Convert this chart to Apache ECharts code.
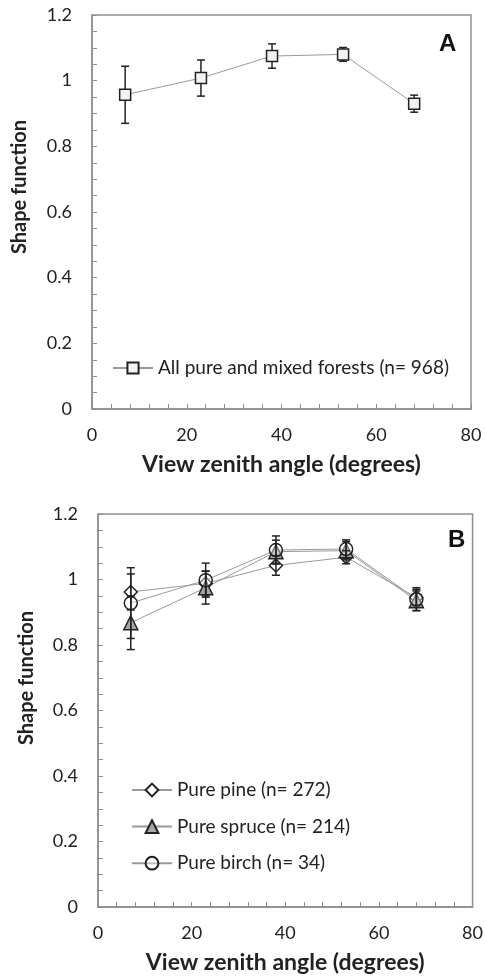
<!DOCTYPE html>
<html>
<head>
<meta charset="utf-8">
<script src="https://cdn.jsdelivr.net/npm/echarts@6/dist/echarts.min.js"></script>
<style>
  html, body { margin: 0; padding: 0; background: #fff; }
  #chart { width: 486px; height: 979px; }
</style>
</head>
<body>
<div id="chart"></div>
<script>
// view zenith angles (degrees)
const angles = [7, 23, 38, 53, 68]

// panel A: all pure and mixed forests
const allMean = [0.957, 1.008, 1.075, 1.08, 0.93]
const allErr = [0.087, 0.055, 0.037, 0.021, 0.026]

// panel B: pure stands
const pineMean = [0.962, 0.988, 1.043, 1.068, 0.945]
const pineErr = [0.055, 0.038, 0.03, 0.02, 0.025]
const spruceMean = [0.868, 0.975, 1.085, 1.088, 0.935]
const spruceErr = [0.082, 0.05, 0.035, 0.028, 0.03]
const birchMean = [0.928, 0.998, 1.09, 1.093, 0.94]
const birchErr = [0.108, 0.052, 0.043, 0.028, 0.035]

const xTicks = [0, 20, 40, 60, 80]
const yTicks = [0, 0.2, 0.4, 0.6, 0.8, 1, 1.2]

const FONT = 'Lato'
const AXIS_COLOR = '#8f8f8f'
const TEXT_COLOR = '#222'

const chart = echarts.init(document.getElementById('chart'))

const makeX = (idx) => ({
  type: 'value',
  gridIndex: idx,
  min: xTicks[0],
  max: xTicks[xTicks.length - 1],
  interval: xTicks[1] - xTicks[0],
  name: 'View zenith angle (degrees)',
  nameLocation: 'middle',
  nameGap: 44,
  nameTextStyle: { fontFamily: FONT, fontWeight: 'bold', fontSize: 23, color: TEXT_COLOR },
  axisLine: { lineStyle: { color: AXIS_COLOR, width: 1.5 } },
  axisTick: { inside: true, length: 5, lineStyle: { color: AXIS_COLOR } },
  minorTick: { show: true, splitNumber: 5, length: 5, lineStyle: { color: AXIS_COLOR } },
  axisLabel: { margin: 17, fontFamily: FONT, fontSize: 18, color: TEXT_COLOR },
  splitLine: { show: false }
})

const makeY = (idx) => ({
  type: 'value',
  gridIndex: idx,
  min: yTicks[0],
  max: yTicks[yTicks.length - 1],
  interval: 0.2,
  axisLine: { show: true, lineStyle: { color: AXIS_COLOR, width: 1.5 } },
  axisTick: { show: true, inside: true, length: 5, lineStyle: { color: AXIS_COLOR } },
  minorTick: { show: true, splitNumber: 4, length: 5, lineStyle: { color: AXIS_COLOR } },
  axisLabel: { margin: 20, fontFamily: FONT, fontSize: 18, color: TEXT_COLOR },
  splitLine: { show: false }
})

// vertical error bars with caps
function errorBars(idx, means, errs, z) {
  return {
    type: 'custom',
    xAxisIndex: idx,
    yAxisIndex: idx,
    z: z,
    silent: true,
    encode: { x: 0, y: [1, 2] },
    data: angles.map((a, i) => [a, means[i] - errs[i], means[i] + errs[i]]),
    renderItem: (params, api) => {
      const lo = api.coord([api.value(0), api.value(1)])
      const hi = api.coord([api.value(0), api.value(2)])
      const w = 4
      const style = { stroke: '#222', lineWidth: 1.5 }
      return {
        type: 'group',
        children: [
          { type: 'line', shape: { x1: lo[0], y1: lo[1], x2: hi[0], y2: hi[1] }, style },
          { type: 'line', shape: { x1: hi[0] - w, y1: hi[1], x2: hi[0] + w, y2: hi[1] }, style },
          { type: 'line', shape: { x1: lo[0] - w, y1: lo[1], x2: lo[0] + w, y2: lo[1] }, style }
        ]
      }
    }
  }
}

function meanLine(idx, name, means, symbol, size, fill, z) {
  return {
    type: 'line',
    name: name,
    xAxisIndex: idx,
    yAxisIndex: idx,
    z: z,
    data: angles.map((a, i) => [a, means[i]]),
    symbol: symbol,
    symbolSize: size,
    showAllSymbol: true,
    lineStyle: { color: '#9a9a9a', width: 1 },
    itemStyle: { color: fill, borderColor: '#222', borderWidth: 1.5 },
    emphasis: { disabled: true },
    animation: false
  }
}

const legendText = { fontFamily: FONT, fontSize: 19, color: TEXT_COLOR, lineHeight: 20 }

chart.setOption({
  animation: false,
  grid: [
    { left: 92, top: 15, width: 379, height: 394, show: true, borderColor: AXIS_COLOR, borderWidth: 1.5 },
    { left: 98, top: 514, width: 379, height: 393, show: true, borderColor: AXIS_COLOR, borderWidth: 1.5 }
  ],
  xAxis: [makeX(0), makeX(1)],
  yAxis: [makeY(0), makeY(1)],
  legend: [
    {
      data: ['All pure and mixed forests (n= 968)'],
      left: 107, top: 353,
      itemWidth: 40, itemHeight: 14, itemGap: 5,
      textStyle: legendText,
      selectedMode: false
    },
    {
      data: ['Pure pine (n= 272)', 'Pure spruce (n= 214)', 'Pure birch (n= 34)'],
      orient: 'vertical',
      left: 126, top: 775,
      itemWidth: 40, itemHeight: 16, itemGap: 16.6,
      textStyle: legendText,
      selectedMode: false
    }
  ],
  graphic: [
    { type: 'text', left: 439, top: 32, style: { text: 'A', font: 'bold 24px "Liberation Sans"', fill: '#111' } },
    { type: 'text', left: 448, top: 528, style: { text: 'B', font: 'bold 24px "Liberation Sans"', fill: '#111' } },
    { type: 'text', x: 20, y: 187, rotation: Math.PI / 2,
      style: { text: 'Shape function', font: 'bold 20px ' + FONT, fill: TEXT_COLOR, align: 'center', verticalAlign: 'middle' } },
    { type: 'text', x: 27, y: 678, rotation: Math.PI / 2,
      style: { text: 'Shape function', font: 'bold 20px ' + FONT, fill: TEXT_COLOR, align: 'center', verticalAlign: 'middle' } }
  ],
  series: [
    errorBars(0, allMean, allErr, 2),
    meanLine(0, 'All pure and mixed forests (n= 968)', allMean, 'rect', 11, '#f2f2f2', 3),
    meanLine(1, 'Pure pine (n= 272)', pineMean, 'diamond', 13, '#fff', 3),
    meanLine(1, 'Pure spruce (n= 214)', spruceMean, 'triangle', 14, '#a6a6a6', 3),
    meanLine(1, 'Pure birch (n= 34)', birchMean, 'circle', 13, 'rgba(255,255,255,0.4)', 3),
    errorBars(1, pineMean, pineErr, 4),
    errorBars(1, spruceMean, spruceErr, 4),
    errorBars(1, birchMean, birchErr, 4)
  ]
})

window.addEventListener('resize', () => chart.resize())
</script>
</body>
</html>
